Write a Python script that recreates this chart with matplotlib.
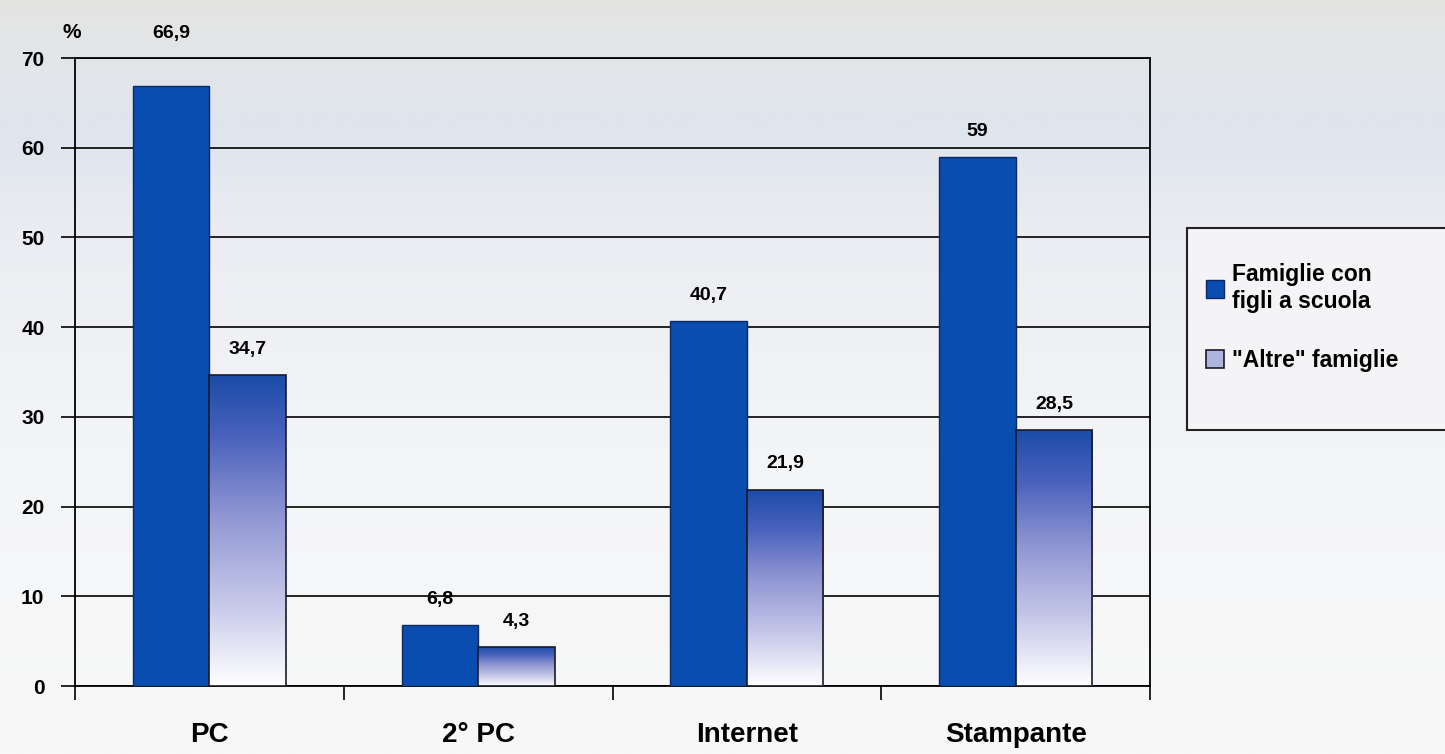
import matplotlib
matplotlib.use("Agg")
import matplotlib.pyplot as plt
import numpy as np
from matplotlib.colors import LinearSegmentedColormap
from matplotlib.patches import Rectangle

categories = ["PC", "2° PC", "Internet", "Stampante"]
famiglie_figli = [66.9, 6.8, 40.7, 59.0]
altre_famiglie = [34.7, 4.3, 21.9, 28.5]
labels_figli = ["66,9", "6,8", "40,7", "59"]
labels_altre = ["34,7", "4,3", "21,9", "28,5"]
series_names = ["Famiglie con\nfigli a scuola", '"Altre" famiglie']
yticks = [0, 10, 20, 30, 40, 50, 60, 70]

plt.rcParams['font.family'] = ['Liberation Sans', 'DejaVu Sans']
plt.rcParams['font.weight'] = 'bold'

fig = plt.figure(figsize=(14.45, 7.54), dpi=100)

# background gradient
bg = fig.add_axes([0, 0, 1, 1], zorder=-10)
bg_cmap = LinearSegmentedColormap.from_list(
    "bg", [(0.0, "#e4e4e2"), (0.07, "#e3e5e8"), (0.18, "#dfe5ee"), (0.32, "#ecedf2"),
           (0.6, "#f4f5f7"), (1.0, "#f8f8f8")])
bg.imshow(np.linspace(0, 1, 256).reshape(-1, 1), aspect='auto', cmap=bg_cmap,
          extent=[0, 1, 0, 1], origin='upper')
bg.set_axis_off()

ax = fig.add_axes([75/1445, 1-686/754, (1150-75)/1445, (686-58)/754])
ax.patch.set_alpha(0)

x = np.arange(len(categories))
w = 0.285
bars1 = ax.bar(x - w/2, famiglie_figli, w, color="#0a4db0", edgecolor="#0a2a60",
               linewidth=1.0, zorder=3, label=series_names[0])
bars2 = ax.bar(x + w/2, altre_famiglie, w, color="#8e97d4", edgecolor="#1a1a2a",
               linewidth=1.2, zorder=3, label=series_names[1])

grad_cmap = LinearSegmentedColormap.from_list(
    "g", [(0.0, "#ffffff"), (0.25, "#c9cbea"), (0.55, "#8f95d2"), (0.8, "#4a62bd"), (1.0, "#1a4ca8")])
for b in bars2:
    bx, by = b.get_x(), b.get_y()
    bw, bh = b.get_width(), b.get_height()
    im = ax.imshow(np.linspace(0, 1, 256).reshape(-1, 1), aspect='auto', cmap=grad_cmap,
                   extent=[bx, bx + bw, by, by + bh], origin='lower', zorder=3.5)
    im.set_clip_path(b)
    b.set_facecolor('none')
    b.set_zorder(4)

ymax = 70
def place_label(b, t):
    h = b.get_height()
    y = h + 1.9
    if y + 1.6 > ymax:
        y = ymax + 1.8
    ax.text(b.get_x() + b.get_width()/2, y, t, ha='center', va='bottom',
            fontsize=14, fontweight='bold', zorder=5, clip_on=False)

for b, t in zip(bars1, labels_figli):
    place_label(b, t)
for b, t in zip(bars2, labels_altre):
    place_label(b, t)

ax.set_xlim(-0.5, len(categories) - 0.5)
ax.set_ylim(0, ymax)
ax.set_yticks(yticks)
ax.set_yticklabels([str(v) for v in yticks], fontsize=15, fontweight='bold')
ax.yaxis.grid(True, color='black', linewidth=1.2, zorder=1)
ax.set_axisbelow(True)

ax.set_xticks(x)
ax.set_xticklabels(categories, fontsize=20, fontweight='bold')
ax.set_xticks(np.arange(-0.5, len(categories)), minor=True)
ax.tick_params(axis='x', which='major', length=0, pad=26)
ax.tick_params(axis='x', which='minor', length=10, width=1.2, direction='out')
ax.tick_params(axis='y', length=10, width=1.2, direction='out', pad=12)
for s in ax.spines.values():
    s.set_linewidth(1.3)
    s.set_color('black')

fig.text(72/1445, 1-32/754, "%", fontsize=15, fontweight='bold', ha='center', va='center')

# legend frame (extends past the right edge, as in the reference)
frame = Rectangle((1187/1445, 1-430/754), 300/1445, (430-228)/754, transform=fig.transFigure,
                  facecolor='#f4f4f6', edgecolor='#222222', linewidth=1.5, zorder=1)
fig.patches.append(frame)

leg = fig.legend(handles=[bars1, bars2], labels=series_names,
                 loc='upper left', bbox_to_anchor=(1183/1445, 1-240/754),
                 fontsize=16.5, frameon=False, handlelength=0.8, handleheight=0.8,
                 handletextpad=0.35, borderpad=0.5, labelspacing=1.6)
leg.legend_handles[1].set_facecolor("#aeb5dc")

fig.savefig("out.png", dpi=100)
